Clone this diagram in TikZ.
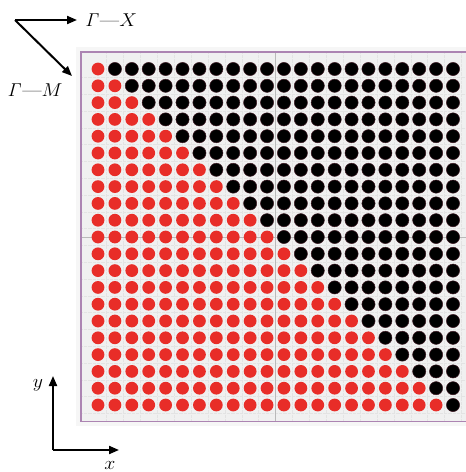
\documentclass[tikz,border=0pt]{standalone}
\usepackage{graphicx}
\usetikzlibrary{arrows.meta}
\definecolor{dotred}{RGB}{232,45,40}
\definecolor{framecol}{RGB}{172,132,178}
\definecolor{panelbg}{RGB}{240,240,240}
\definecolor{outerbg}{RGB}{246,246,246}
\definecolor{blackedge}{RGB}{60,25,35}
\newcommand{\wlbl}[1]{\scalebox{1.65}[1.55]{#1}}
\begin{document}
\begin{tikzpicture}[x=1pt,y=-1pt,
  axarrow/.style={line width=2pt,-{Triangle[length=10pt,width=8pt]}},
  lbl/.style={font=\fontsize{12}{14}\selectfont,inner sep=0pt},
  reddot/.style={fill=dotred},
  blackdot/.style={fill=black,draw=blackedge,line width=0.5pt},
  gridln/.style={gray!22,line width=0.3pt,densely dotted},
  crossln/.style={gray!55,line width=0.4pt},
  framebox/.style={draw=framecol,line width=1.8pt}]
\useasboundingbox (0,0) rectangle (466,472);
% panel
\fill[outerbg] (76,47) rectangle (466,426);
\fill[panelbg] (81,52) rectangle (466,421.5);
\foreach \k in {0,...,21} {
  \draw[gridln] ({98+16.905*(\k+0.5)},52) -- ({98+16.905*(\k+0.5)},421.5);
}
\foreach \k in {0,...,20} {
  \draw[gridln] (81,{69+16.8*(\k+0.5)}) -- (466,{69+16.8*(\k+0.5)});
}
\draw[crossln] (275,52) -- (275,421.5);
\draw[crossln] (81,237) -- (466,237);
% dots
\foreach \r in {0,...,20} {
  \foreach \c in {0,...,21} {
    \ifnum\c>\r
      \draw[blackdot] ({98+16.905*\c},{69+16.8*\r}) circle (6.6);
    \else
      \fill[reddot] ({98+16.905*\c},{69+16.8*\r}) circle (6.4);
    \fi
  }
}
\draw[framebox] (81,52) rectangle (468,421.5);
% direction arrows
\coordinate (g) at (15,20);
\coordinate (gx) at (77,20);
\coordinate (gm) at (72,76);
\draw[axarrow] (g) -- (gx);
\draw[axarrow] (g) -- (gm);
\node[lbl] (lgx) at (111,20) {\wlbl{$\mathit{\Gamma}$---$X$}};
\node[lbl] (lgm) at (35,90) {\wlbl{$\mathit{\Gamma}$---$M$}};
% axes
\coordinate (o) at (53,450);
\coordinate (oy) at (53,376);
\coordinate (ox) at (119,450);
\draw[axarrow] (o) -- (oy);
\draw[axarrow] (o) -- (ox);
\node[lbl] (ly) at (38,385) {\wlbl{$y$}};
\node[lbl] (lx) at (110,465) {\wlbl{$x$}};
\end{tikzpicture}
\end{document}
